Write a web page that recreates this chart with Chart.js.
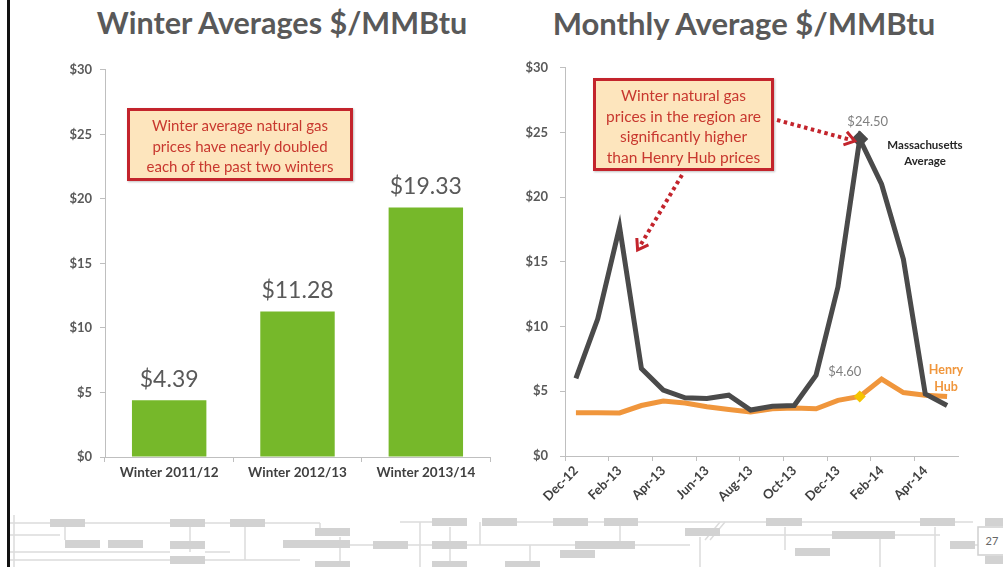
<!DOCTYPE html>
<html>
<head>
<meta charset="utf-8">
<script src="https://cdn.jsdelivr.net/npm/chart.js@4.4.1/dist/chart.umd.min.js"></script>
<style>
  body { margin: 0; width: 1003px; height: 567px; overflow: hidden; background: #fff; font-family: Lato, sans-serif; position: relative; }
  .title { position: absolute; top: 4px; font-weight: bold; color: #595959; text-align: center; white-space: nowrap; }
  .wrap { position: absolute; }
  .note { position: absolute; box-sizing: border-box; border: 3px solid #c3242c; background: #fde5bd; color: #c8382f; font-size: 15px; line-height: 20.5px; text-align: center; box-shadow: 1px 1px 2px rgba(0,0,0,0.25); }
  .lbl { position: absolute; white-space: nowrap; text-align: center; }
  #edge { position: absolute; left: 7px; top: 0; width: 3px; height: 567px; background: #111; }
</style>
</head>
<body>
<div id="edge"></div>
<div class="title" style="left:82px;width:400px;font-size:30.5px;">Winter Averages $/MMBtu</div>
<div class="title" style="left:544px;width:400px;font-size:31px;">Monthly Average $/MMBtu</div>

<svg id="footer" width="1003" height="567" style="position:absolute;left:0;top:0;pointer-events:none">
  <g stroke="#dcdcdc" stroke-width="1.5" fill="none">
    <path d="M10 523 H50 M85 523 H170 M205 523 H230 M265 523 H320 M400 522 H432 M517 522 H553 M588 522 H604 M638 522 H766 M802 522 H920 M955 522 H973"/>
    <path d="M10 535 H60 M10 552 H170 M205 552 H230 M10 560 H300 M350 545 H373 M408 545 H432 M467 545 H575 M635 545 H690 M720 535 H832 M895 535 H940"/>
    <path d="M65 523 V540 M190 527 V552 M245 527 V560 M320 523 V530 M340 537 V567 M420 522 V567 M450 527 V567 M480 522 V545 M530 545 V567 M620 522 V545 M700 537 V567 M785 527 V550 M880 535 V567 M935 527 V567 M950 545 H978"/>
    <path d="M14 515 V567 M705 540 L720 522 M710 540 L725 522"/>
  </g>
  <g fill="#d2d2d2">
    <rect x="50" y="519" width="35" height="8"/>
    <rect x="170" y="519" width="35" height="8"/>
    <rect x="230" y="519" width="35" height="8"/>
    <rect x="432" y="518" width="35" height="8"/>
    <rect x="482" y="518" width="35" height="8"/>
    <rect x="553" y="518" width="35" height="8"/>
    <rect x="604" y="518" width="34" height="8"/>
    <rect x="766" y="518" width="36" height="8"/>
    <rect x="920" y="518" width="35" height="8"/>
    <rect x="985" y="518" width="18" height="8"/>
    <rect x="315" y="528" width="35" height="8"/>
    <rect x="685" y="528" width="35" height="8"/>
    <rect x="832" y="531" width="63" height="8"/>
    <rect x="65" y="540" width="35" height="8"/>
    <rect x="108" y="540" width="35" height="8"/>
    <rect x="170" y="541" width="35" height="8"/>
    <rect x="283" y="540" width="67" height="8"/>
    <rect x="373" y="541" width="35" height="8"/>
    <rect x="432" y="541" width="35" height="8"/>
    <rect x="575" y="541" width="60" height="8"/>
    <rect x="795" y="548" width="35" height="8"/>
    <rect x="560" y="550" width="35" height="8"/>
    <rect x="950" y="541" width="25" height="8"/>
    <rect x="170" y="556" width="35" height="8"/>
    <rect x="315" y="561" width="35" height="8"/>
    <rect x="432" y="561" width="35" height="8"/>
    <rect x="505" y="561" width="35" height="8"/>
    <rect x="985" y="556" width="18" height="8"/>
  </g>
  <rect x="978" y="527" width="30" height="28" fill="#fff" stroke="#cfcfcf" stroke-width="1.5"/>
  <text x="992" y="545" font-family="Lato" font-size="11" fill="#666" text-anchor="middle">27</text>
</svg>

<div class="wrap" style="left:40px;top:54px;width:460px;height:436px;"><canvas id="winterChart"></canvas></div>
<div class="wrap" style="left:500px;top:48px;width:503px;height:477px;"><canvas id="monthlyChart"></canvas></div>

<div class="note" style="left:127px;top:108px;width:226px;height:73px;padding-top:4px;">Winter average natural gas<br>prices have nearly doubled<br>each of the past two winters</div>
<div class="note" style="left:593px;top:78px;width:181px;height:93px;padding-top:4px;font-size:15.5px;">Winter natural gas<br>prices in the region are<br>significantly higher<br>than Henry Hub prices</div>

<div class="lbl" style="left:880px;top:137px;width:90px;font-size:11.5px;font-weight:bold;color:#262626;line-height:16px;">Massachusetts<br>Average</div>
<div class="lbl" style="left:916px;top:361px;width:60px;font-size:12.5px;font-weight:bold;color:#f0963c;line-height:17px;">Henry<br>Hub</div>

<script>
const winterLabels = ['Winter 2011/12', 'Winter 2012/13', 'Winter 2013/14'];
const winterValues = [4.39, 11.28, 19.33];

const months = ['Dec-12', 'Jan-13', 'Feb-13', 'Mar-13', 'Apr-13', 'May-13', 'Jun-13', 'Jul-13', 'Aug-13',
                'Sep-13', 'Oct-13', 'Nov-13', 'Dec-13', 'Jan-14', 'Feb-14', 'Mar-14', 'Apr-14', 'May-14'];
const massValues = [6.0, 10.6, 17.7, 6.75, 5.1, 4.5, 4.45, 4.7, 3.55, 3.85, 3.9, 6.25, 13.05, 24.5, 21.0, 15.2, 4.8, 3.9];
const henryValues = [3.35, 3.35, 3.33, 3.9, 4.25, 4.1, 3.8, 3.6, 3.4, 3.65, 3.7, 3.65, 4.3, 4.6, 5.95, 4.9, 4.7, 4.6];
const peakIndex = 13;

const axisGray = '#bfbfbf';
const tickFont = { family: 'Lato', size: 13, weight: 'bold' };

// valeurs au-dessus des barres
const barLabels = {
    id: 'barLabels',
    afterDatasetsDraw(chart) {
        const ctx = chart.ctx;
        ctx.save();
        ctx.font = '23px Lato';
        ctx.fillStyle = '#595959';
        ctx.textAlign = 'center';
        ctx.textBaseline = 'bottom';
        chart.getDatasetMeta(0).data.forEach((bar, i) => {
            ctx.fillText('$' + winterValues[i].toFixed(2), bar.x, bar.y - 9);
        });
        ctx.restore();
    }
};

function dottedArrow(ctx, x1, y1, x2, y2) {
    const ang = Math.atan2(y2 - y1, x2 - x1);
    ctx.save();
    ctx.strokeStyle = '#c3242c';
    ctx.lineWidth = 4;
    ctx.lineCap = 'butt';
    ctx.setLineDash([3.5, 3.5]);
    ctx.beginPath();
    ctx.moveTo(x1, y1);
    ctx.lineTo(x2 - 5 * Math.cos(ang), y2 - 5 * Math.sin(ang));
    ctx.stroke();
    ctx.setLineDash([]);
    ctx.lineWidth = 3;
    ctx.lineJoin = 'miter';
    ctx.beginPath();
    ctx.moveTo(x2 - 12 * Math.cos(ang - 0.6), y2 - 12 * Math.sin(ang - 0.6));
    ctx.lineTo(x2, y2);
    ctx.lineTo(x2 - 12 * Math.cos(ang + 0.6), y2 - 12 * Math.sin(ang + 0.6));
    ctx.stroke();
    ctx.restore();
}

const monthlyNotes = {
    id: 'monthlyNotes',
    afterDatasetsDraw(chart) {
        const ctx = chart.ctx;
        const x = chart.scales.x, y = chart.scales.y;
        const box = chart.canvas.getBoundingClientRect();
        const px = x.getPixelForValue(peakIndex);
        const pyMass = y.getPixelForValue(massValues[peakIndex]);
        const pyHenry = y.getPixelForValue(henryValues[peakIndex]);
        const fx = x.getPixelForValue(2);
        const fy = y.getPixelForValue(massValues[2]);

        ctx.save();
        ctx.font = '13px Lato';
        ctx.fillStyle = '#7f7f7f';
        ctx.textAlign = 'center';
        ctx.textBaseline = 'middle';
        ctx.fillText('$' + massValues[peakIndex].toFixed(2), px + 8, pyMass - 17);
        ctx.fillText('$' + henryValues[peakIndex].toFixed(2), px - 15, pyHenry - 25);
        ctx.restore();

        // flèches depuis la boîte de texte
        dottedArrow(ctx, 777 - box.left, 120 - box.top, px - 5, pyMass + 2);
        dottedArrow(ctx, 682 - box.left, 175 - box.top, fx + 18, fy + 23);
    }
};

new Chart(document.getElementById('winterChart'), {
    type: 'bar',
    data: {
        labels: winterLabels,
        datasets: [{
            data: winterValues,
            backgroundColor: '#76b82a',
            categoryPercentage: 1,
            barPercentage: 0.58
        }]
    },
    options: {
        responsive: true,
        maintainAspectRatio: false,
        animation: false,
        layout: { padding: { top: 10, right: 10, left: 0, bottom: 0 } },
        plugins: { legend: { display: false }, tooltip: { enabled: false } },
        scales: {
            x: {
                grid: { drawOnChartArea: false, color: axisGray, tickLength: 5 },
                border: { color: axisGray },
                ticks: { color: '#404040', font: { family: 'Lato', size: 13.5, weight: 'bold' }, padding: 3 },
                afterFit: s => { s.height = 33; }
            },
            y: {
                min: 0, max: 30,
                grid: { drawOnChartArea: false, color: axisGray, tickLength: 5 },
                border: { color: axisGray },
                ticks: { stepSize: 5, color: '#595959', font: tickFont, padding: 8, callback: v => '$' + v },
                afterFit: s => { s.width = 65; }
            }
        }
    },
    plugins: [barLabels]
});

new Chart(document.getElementById('monthlyChart'), {
    type: 'line',
    data: {
        labels: months,
        datasets: [{
            label: 'Massachusetts Average',
            data: massValues,
            borderColor: '#4a4a4a',
            backgroundColor: '#4a4a4a',
            borderWidth: 5,
            tension: 0,
            pointStyle: 'rectRot',
            pointRadius: massValues.map((_, i) => i === peakIndex ? 5 : 0)
        }, {
            label: 'Henry Hub',
            data: henryValues,
            borderColor: '#f0963c',
            backgroundColor: '#f5c400',
            borderWidth: 5,
            tension: 0,
            pointStyle: 'rectRot',
            pointBorderWidth: 0,
            pointRadius: henryValues.map((_, i) => i === peakIndex ? 6 : 0)
        }]
    },
    options: {
        responsive: true,
        maintainAspectRatio: false,
        animation: false,
        layout: { padding: { top: 12, right: 45, left: 0, bottom: 0 } },
        plugins: { legend: { display: false }, tooltip: { enabled: false } },
        scales: {
            x: {
                offset: true,
                grid: {
                    offset: true, drawOnChartArea: false, tickLength: 5,
                    color: c => c.index % 2 === 0 ? axisGray : 'rgba(0,0,0,0)'
                },
                border: { color: axisGray },
                ticks: {
                    autoSkip: false, maxRotation: 45, minRotation: 45, padding: 2,
                    color: '#404040', font: tickFont,
                    callback: (v, i) => i % 2 === 0 ? months[i] : ''
                },
                afterFit: s => { s.height = 69; }
            },
            y: {
                min: 0, max: 30,
                grid: { drawOnChartArea: false, color: axisGray, tickLength: 5 },
                border: { color: axisGray },
                ticks: { stepSize: 5, color: '#595959', font: tickFont, padding: 12, callback: v => '$' + v },
                afterFit: s => { s.width = 65; }
            }
        }
    },
    plugins: [monthlyNotes]
});
</script>
</body>
</html>
